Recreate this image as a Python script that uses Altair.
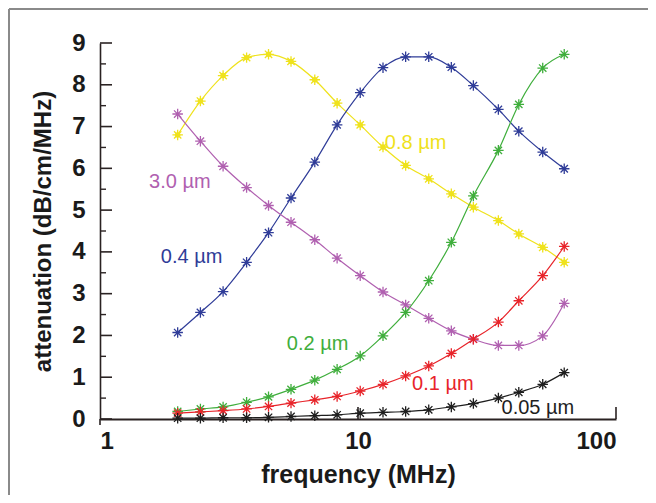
import altair as alt
import pandas as pd

# ---- data ----
freqs = [2.0, 2.45, 3.0, 3.7, 4.5, 5.5, 6.8, 8.3, 10.2, 12.5, 15.3, 18.8, 23.0, 28.0, 35.0, 42.0, 52.0, 63.0]

s_080 = [6.80, 7.61, 8.22, 8.65, 8.73, 8.56, 8.12, 7.56, 7.04, 6.51, 6.07, 5.75, 5.39, 5.07, 4.75, 4.43, 4.11, 3.75]
s_040 = [2.07, 2.55, 3.05, 3.75, 4.46, 5.29, 6.15, 7.04, 7.81, 8.41, 8.67, 8.67, 8.42, 7.98, 7.41, 6.89, 6.39, 5.99]
s_300 = [7.30, 6.65, 6.05, 5.54, 5.11, 4.71, 4.29, 3.85, 3.43, 3.04, 2.73, 2.41, 2.11, 1.91, 1.76, 1.76, 1.99, 2.77]
s_020 = [0.18, 0.24, 0.29, 0.40, 0.53, 0.71, 0.93, 1.19, 1.51, 1.99, 2.55, 3.31, 4.23, 5.34, 6.43, 7.53, 8.40, 8.73]
s_010 = [0.14, 0.17, 0.20, 0.24, 0.30, 0.38, 0.46, 0.54, 0.67, 0.83, 1.03, 1.27, 1.57, 1.91, 2.32, 2.83, 3.43, 4.13]
s_005 = [0.02, 0.02, 0.03, 0.03, 0.04, 0.06, 0.08, 0.10, 0.14, 0.16, 0.18, 0.22, 0.29, 0.37, 0.50, 0.64, 0.83, 1.11]

series_names = ["0.8 µm", "0.4 µm", "3.0 µm", "0.2 µm", "0.1 µm", "0.05 µm"]
series_vals = [s_080, s_040, s_300, s_020, s_010, s_005]
series_colors = ["#efe21c", "#2f3c98", "#b060b0", "#3fae3c", "#e8242a", "#1e1e1e"]

label_x = [12.7, 1.72, 1.55, 5.3, 16.2, 36.0]
label_y = [6.61, 3.87, 5.67, 1.80, 0.84, 0.26]

y_major = [0, 1, 2, 3, 4, 5, 6, 7, 8, 9]
y_minor = [0.5, 1.5, 2.5, 3.5, 4.5, 5.5, 6.5, 7.5, 8.5]
x_ticks = [10, 100]

rows = []
for name, vals in zip(series_names, series_vals):
    for f, v in zip(freqs, vals):
        rows.append({"series": name, "freq": f, "att": v})
df = pd.DataFrame(rows)
lab = pd.DataFrame({"series": series_names, "freq": label_x, "att": label_y})

xs = alt.Scale(type="log", domain=[1, 100])
ys = alt.Scale(domain=[0, 9])
cs = alt.Scale(domain=series_names, range=series_colors)

star = "M0,-1L0,1M-1,0L1,0M-0.7,-0.7L0.7,0.7M-0.7,0.7L0.7,-0.7"

x_enc = alt.X("freq:Q", scale=xs, title="frequency (MHz)",
              axis=alt.Axis(values=[1, 10, 100], format="d", tickSize=0,
                            labelFont="Liberation Sans", labelFontSize=24, labelFontWeight="bold",
                            labelColor="#1a1a1a", labelPadding=10,
                            titleFont="Liberation Sans", titleFontSize=25, titleFontWeight="bold",
                            titleColor="#1a1a1a", titlePadding=9,
                            domainColor="#2a2222", domainWidth=2.2, grid=False))
y_enc = alt.Y("att:Q", scale=ys, title="attenuation (dB/cm/MHz)",
              axis=alt.Axis(values=y_major, tickSize=0,
                            labelFont="Liberation Sans", labelFontSize=24, labelFontWeight="bold",
                            labelColor="#1a1a1a", labelPadding=15,
                            titleFont="Liberation Sans", titleFontSize=24, titleFontWeight="bold",
                            titleColor="#1a1a1a", titlePadding=16,
                            domainColor="#2a2222", domainWidth=1.6, grid=False))

base = alt.Chart(df)

lines = base.mark_line(strokeWidth=1.2, interpolate="monotone").encode(
    x=x_enc, y=y_enc,
    color=alt.Color("series:N", scale=cs, legend=None),
    detail="series:N",
)
pts = base.mark_point(shape=star, size=110, filled=False, strokeWidth=1.3, opacity=1).encode(
    x=alt.X("freq:Q", scale=xs), y=alt.Y("att:Q", scale=ys),
    color=alt.Color("series:N", scale=cs, legend=None),
)
yel_dots = base.transform_filter(alt.datum.series == "0.8 µm").mark_circle(size=30, opacity=1).encode(
    x=alt.X("freq:Q", scale=xs), y=alt.Y("att:Q", scale=ys),
    color=alt.Color("series:N", scale=cs, legend=None),
)

labels = alt.Chart(lab).mark_text(align="left", baseline="middle", font="Liberation Sans", fontSize=20).encode(
    x=alt.X("freq:Q", scale=xs), y=alt.Y("att:Q", scale=ys),
    text="series:N",
    color=alt.Color("series:N", scale=cs, legend=None),
)

ymaj = alt.Chart(pd.DataFrame({"v": y_major})).mark_rule(color="#2a2222", strokeWidth=1.6).encode(
    y=alt.Y("v:Q", scale=ys), x=alt.value(0), x2=alt.value(12))
ymin = alt.Chart(pd.DataFrame({"v": y_minor})).mark_rule(color="#2a2222", strokeWidth=1.4).encode(
    y=alt.Y("v:Q", scale=ys), x=alt.value(0), x2=alt.value(6))
xtk = alt.Chart(pd.DataFrame({"v": x_ticks})).mark_rule(color="#2a2222", strokeWidth=1.6).encode(
    x=alt.X("v:Q", scale=xs), y=alt.value(376), y2=alt.value(364))
ystub = alt.Chart(pd.DataFrame({"v": [1]})).mark_rule(color="#2a2222", strokeWidth=1.6).encode(
    x=alt.X("v:Q", scale=xs), y=alt.value(376), y2=alt.value(382))

# thin grey frame around the figure (kept inside the drawing surface)
frame_top = alt.Chart(pd.DataFrame({"v": [0]})).mark_rule(color="#8a8a8a", strokeWidth=2).encode(
    x=alt.value(-91), x2=alt.value(548), y=alt.value(-34))
frame_left = alt.Chart(pd.DataFrame({"v": [0]})).mark_rule(color="#8a8a8a", strokeWidth=2).encode(
    x=alt.value(-91), y=alt.value(-34), y2=alt.value(452))

chart = alt.layer(frame_top, frame_left, ymaj, ymin, xtk, ystub, lines, pts, yel_dots, labels).properties(
    width=516, height=376,
    autosize=alt.AutoSizeParams(type="none"),
    padding={"left": 92, "top": 35, "right": 32, "bottom": 76},
    background="white",
).configure_view(stroke=None)

chart.save("out.html", embed_options={"renderer": "svg", "actions": False})
